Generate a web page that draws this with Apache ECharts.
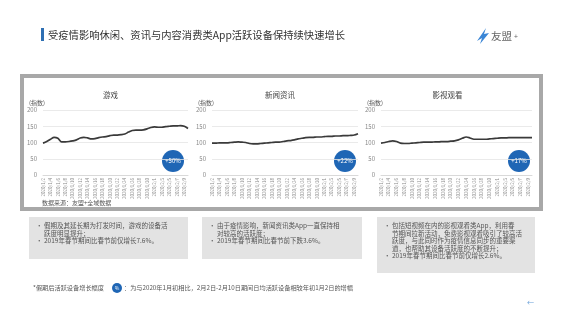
<!DOCTYPE html>
<html><head><meta charset="utf-8">
<script src="https://cdn.jsdelivr.net/npm/echarts@6/dist/echarts.min.js"></script>
<style>html,body{margin:0;padding:0;background:#fff;}#c{width:565px;height:330px;}</style>
</head><body><div id="c"></div>
<script>
const dates = ['2020/1/2','2020/1/3','2020/1/4','2020/1/5','2020/1/6','2020/1/7','2020/1/8','2020/1/9','2020/1/10','2020/1/11',
'2020/1/12','2020/1/13','2020/1/14','2020/1/15','2020/1/16','2020/1/17','2020/1/18','2020/1/19','2020/1/20','2020/1/21',
'2020/1/22','2020/1/23','2020/1/24','2020/1/25','2020/1/26','2020/1/27','2020/1/28','2020/1/29','2020/1/30','2020/1/31',
'2020/2/1','2020/2/2','2020/2/3','2020/2/4','2020/2/5','2020/2/6','2020/2/7','2020/2/8','2020/2/9','2020/2/10'];
const gameValues = [98,103,110,116,113,102,102,103,105,108,114,116,114,111,112,115,117,118,121,123,
123,124,126,132,137,138,138,139,142,146,148,147,147,149,150,151,151,152,150,143];
const newsValues = [98,98,99,99,99,100,101,102,101,100,97,96,96,97,98,99,100,101,101,103,
105,106,108,111,113,115,116,116,117,117,118,119,119,120,120,121,121,122,123,127];
const videoValues = [98,100,103,105,103,98,97,97,98,99,100,101,101,101,102,102,103,103,104,105,
108,113,117,114,110,110,110,110,111,112,113,114,114,115,115,115,115,115,115,115];
const panelTitles = ['游戏','新闻资讯','影视观看'];
const growthLabels = ['+50%','+22%','+17%'];
const yMin = 0, yMax = 200, yStep = 50;
const yName = '(指数)';
const pageTitle = '受疫情影响休闲、资讯与内容消费类App活跃设备保持续快速增长';
const sourceNote = '数据来源：友盟+全域数据';
const boxTexts = [
  [['假期及其延长期为打发时间，游戏的设备活','跃度明显提升；'],['2019年春节期间比春节前仅增长7.6%。']],
  [['由于疫情影响，新闻资讯类App一直保持相','对较高的活跃度；'],['2019年春节期间比春节前下跌3.6%。']],
  [['包括短视频在内的影视观看类App，利用春','节期间拉新活动，免费影视观看吸引了较高活','跃度，与此同时作为疫情信息同步的重要渠','道，也帮助其设备活跃度的不断提升；'],['2019年春节期间比春节前仅增长2.6%。']]
];
const footA = '*假期后活跃设备增长幅度';
const footB = '：为与2020年1月初相比，2月2日-2月10日期间日均活跃设备相较年初1月2日的增幅';

const FONT = '"Noto Sans CJK SC", "Noto Sans", sans-serif';
const series = [gameValues, newsValues, videoValues];
const grids = [
  {left:43, top:110, width:145, height:65},
  {left:212, top:110, width:146, height:65},
  {left:381, top:110, width:151, height:65}
];
const chart = echarts.init(document.getElementById('c'), null, {renderer:'canvas'});
const graphic = [];
// background frame
graphic.push({type:'rect', z:-10, shape:{x:22, y:76, width:519, height:133}, style:{fill:'#fff', stroke:'#a8a8a8', lineWidth:4}});
// title
graphic.push({type:'rect', shape:{x:41, y:28, width:3, height:13}, style:{fill:'#2e6fb3'}});
graphic.push({type:'text', x:48, y:35, style:{text:pageTitle, font:'10.3px '+FONT, fill:'#333', verticalAlign:'middle'}});
// logo
graphic.push({type:'polygon', shape:{points:[[477,41],[486,28],[484,34],[489,33],[480,44],[482,38]]}, style:{fill:'#3a86d6'}});
graphic.push({type:'text', x:491, y:36, style:{text:'友盟', font:'10.5px '+FONT, fill:'#666', verticalAlign:'middle'}});
graphic.push({type:'text', x:514, y:36, style:{text:'+', font:'7px '+FONT, fill:'#666', verticalAlign:'middle'}});
// panel titles and bubbles
const bubbleX = [173, 345, 519];
panelTitles.forEach((t,i)=>{
  const g = grids[i];
  graphic.push({type:'text', x:g.left + g.width/2 - 5 + (i===2?-4:0), y:95, style:{text:t, font:'7.5px '+FONT, fill:'#444', align:'center', verticalAlign:'middle'}});
  graphic.push({type:'circle', shape:{cx:bubbleX[i], cy:161, r:11}, style:{fill:'#1f66b5'}});
  graphic.push({type:'text', x:bubbleX[i], y:161, style:{text:growthLabels[i], font:'6px '+FONT, fill:'#fff', align:'center', verticalAlign:'middle'}});
});
graphic.push({type:'text', x:42, y:203, style:{text:sourceNote, font:'6px '+FONT, fill:'#555', verticalAlign:'middle'}});
// boxes
const boxes = [{x:29,y:217,w:159,h:42},{x:202,y:217,w:160,h:42},{x:377,y:217,w:158,h:56}];
boxes.forEach((b,i)=>{
  graphic.push({type:'rect', shape:{x:b.x, y:b.y, width:b.w, height:b.h}, style:{fill:'#e3e3e3'}});
  let ly = b.y + 9;
  boxTexts[i].forEach(item=>{
    graphic.push({type:'text', x:b.x+7, y:ly, style:{text:'•', font:'6.5px '+FONT, fill:'#555', verticalAlign:'middle'}});
    item.forEach(line=>{
      graphic.push({type:'text', x:b.x+15, y:ly, style:{text:line, font:'6.5px '+FONT, fill:'#555', verticalAlign:'middle'}});
      ly += 7.5;
    });
  });
});
// footnote
graphic.push({type:'text', x:33, y:288, style:{text:footA, font:'6.2px '+FONT, fill:'#555', verticalAlign:'middle'}});
graphic.push({type:'circle', shape:{cx:117, cy:288, r:5}, style:{fill:'#1f66b5'}});
graphic.push({type:'text', x:117, y:288, style:{text:'%', font:'5px '+FONT, fill:'#fff', align:'center', verticalAlign:'middle'}});
graphic.push({type:'text', x:124, y:288, style:{text:footB, font:'6.2px '+FONT, fill:'#555', verticalAlign:'middle'}});
graphic.push({type:'text', x:527, y:302, style:{text:'←', font:'7px '+FONT, fill:'#6aa0d8', verticalAlign:'middle'}});

const option = {
  backgroundColor:'#fff',
  animation:false,
  grid: grids,
  xAxis: grids.map((g,i)=>({
    type:'category', gridIndex:i, data:dates, boundaryGap:false,
    axisLine:{lineStyle:{color:'#d9d9d9'}}, axisTick:{show:false},
    axisLabel:{rotate:90, interval:1, fontSize:4.5, color:'#888', margin:3, fontFamily:FONT}
  })),
  yAxis: grids.map((g,i)=>({
    type:'value', gridIndex:i, min:yMin, max:yMax, interval:yStep,
    name:yName, nameLocation:'end', nameGap:4,
    nameTextStyle:{fontSize:6, color:'#555', align:'right', fontFamily:FONT, padding:[0,-2,0,0]},
    axisLine:{show:false}, axisTick:{show:false},
    axisLabel:{fontSize:6, color:'#888', margin:6, fontFamily:FONT},
    splitLine:{lineStyle:{color:'#e4e4e4', width:0.8}}
  })),
  series: series.map((d,i)=>({
    type:'line', xAxisIndex:i, yAxisIndex:i, data:d, showSymbol:false, smooth:0.3,
    lineStyle:{color:'#3a3a3a', width:1.7}
  })),
  graphic: graphic
};
chart.setOption(option);
</script></body></html>
